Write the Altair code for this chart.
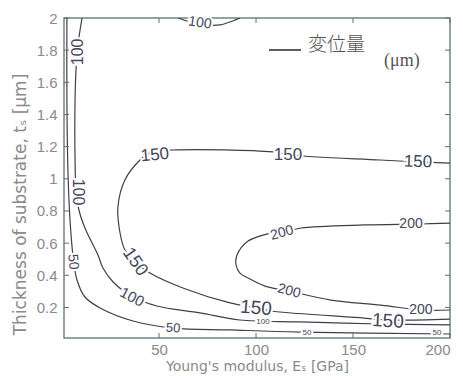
import altair as alt
import pandas as pd

# ---- traced contour lines: Young's modulus E_s [GPa] vs substrate thickness t_s [um]
c50_x = [2.5, 2.5, 3.1, 4.1, 5.6, 7.7, 11.8, 19.6, 36.6, 57.2, 86.6, 122.7, 200]
c50_y = [2.0, 1.49, 1.02, 0.744, 0.526, 0.371, 0.265, 0.197, 0.116, 0.072, 0.060, 0.047, 0.035]

c100a_x = [10.3, 8.2, 7.2, 6.7, 6.7, 7.2, 8.7, 11.8, 18.5, 21.1, 26.3, 36.6, 48.9, 71.1, 91.7, 122.7, 164, 200]
c100a_y = [2.0, 1.832, 1.677, 1.49, 1.117, 0.93, 0.806, 0.694, 0.526, 0.445, 0.358, 0.265, 0.209, 0.166, 0.122, 0.11, 0.097, 0.091]

c100b_x = [59.8, 66, 73.7, 81.4, 87.6, 91.7]
c100b_y = [2.0, 1.975, 1.957, 1.957, 1.98, 2.0]

c150_x = [200, 183.5, 163.9, 117.5, 108.7, 57.2, 45.3, 40.2, 32.4, 28.8, 29.9, 32.4, 37.6, 45.3, 62.3, 86.6, 100, 107.7, 155.7, 168, 200]
c150_y = [1.098, 1.105, 1.117, 1.148, 1.167, 1.179, 1.161, 1.117, 0.993, 0.825, 0.663, 0.557, 0.483, 0.414, 0.321, 0.228, 0.197, 0.178, 0.134, 0.122, 0.128]

c200_x = [200, 185, 155.7, 123.2, 116.5, 107.7, 95.9, 90.2, 89.7, 91.7, 95.9, 104.6, 117, 138.6, 164.4, 185, 200]
c200_y = [0.725, 0.719, 0.713, 0.694, 0.675, 0.663, 0.613, 0.526, 0.464, 0.414, 0.383, 0.333, 0.302, 0.246, 0.215, 0.184, 0.184]

# ---- inline contour labels
lab_text = ["100", "100", "100", "50", "150", "150", "150", "150", "100", "50",
            "200", "200", "200", "200", "150", "150", "100", "50", "50"]
lab_x = [71.1, 8.2, 8.2, 5.6, 47.9, 116.5, 183.5, 37.6, 36.1, 57.2,
         113.4, 179.9, 117.0, 185.0, 100.0, 168.0, 103.6, 126.3, 193.3]
lab_y = [1.969, 1.789, 0.918, 0.483, 1.148, 1.148, 1.105, 0.483, 0.265, 0.072,
         0.663, 0.719, 0.302, 0.184, 0.197, 0.116, 0.110, 0.041, 0.041]
lab_angle = [8, 270, 90, 85, 355, 0, 2, 55, 28, 5, 345, 0, 15, 0, 5, 3, 0, 0, 0]
lab_size = [14, 16, 16, 14, 17, 17, 17, 18, 15, 13, 14, 14, 14, 14, 19, 19, 8, 8, 8]

x_ticks = [50, 100, 150, 200]
y_ticks = [0.2, 0.4, 0.6, 0.8, 1.0, 1.2, 1.4, 1.6, 1.8, 2.0]

# ---- build tables
rows = []
for name, xs, ys in [("50", c50_x, c50_y), ("100a", c100a_x, c100a_y), ("100b", c100b_x, c100b_y),
                     ("150", c150_x, c150_y), ("200", c200_x, c200_y)]:
    for i, (xv, yv) in enumerate(zip(xs, ys)):
        rows.append({"seg": name, "order": i, "E": xv, "t": yv})
lines_df = pd.DataFrame(rows)
labels_df = pd.DataFrame({"E": lab_x, "t": lab_y, "txt": lab_text, "ang": lab_angle, "sz": lab_size})
xt_df = pd.DataFrame({"E": x_ticks})
yt_df = pd.DataFrame({"t": y_ticks})

W, H = 386, 320
xscale = alt.Scale(domain=[1, 200], nice=False, zero=False)
yscale = alt.Scale(domain=[0.01, 2], nice=False, zero=False)
GRAY = "#8a8a8a"
LINE = "#3f3f4c"

xaxis = alt.Axis(values=x_ticks, title="Young's modulus, Eₛ [GPa]", ticks=False, tickSize=0,
                 domain=False, grid=False, labelPadding=4, titleY=28, titleBaseline="middle",
                 titleFontSize=14)
yaxis = alt.Axis(values=y_ticks, format="~g", title="Thickness of substrate, tₛ [μm]", ticks=False,
                 tickSize=0, domain=False, grid=False, labelPadding=7, titleX=-44, titleY=186,
                 titleAlign="center", titleBaseline="middle", titleAngle=270, titleFontSize=17)

X = alt.X("E:Q", scale=xscale, axis=xaxis)
Y = alt.Y("t:Q", scale=yscale, axis=yaxis)

contours = alt.Chart(lines_df).mark_line(color=LINE, strokeWidth=1.2, interpolate="catmull-rom", clip=True).encode(
    x=X, y=Y, detail="seg:N", order="order:Q",
)

halo = alt.Chart(labels_df).mark_text(color="white", stroke="white", strokeWidth=4,
                                       font="Liberation Sans").encode(
    x=X, y=Y, text="txt:N",
    angle=alt.Angle("ang:Q", scale=None),
    size=alt.Size("sz:Q", scale=None, legend=None),
)
labels = alt.Chart(labels_df).mark_text(color="#45455a", font="Liberation Sans").encode(
    x=X, y=Y, text="txt:N",
    angle=alt.Angle("ang:Q", scale=None),
    size=alt.Size("sz:Q", scale=None, legend=None),
)

TICK = "#6a6a6a"
bot_ticks = alt.Chart(xt_df).mark_rule(color=TICK).encode(x=X, y=alt.value(H), y2=alt.value(H - 5))
top_ticks = alt.Chart(xt_df).mark_rule(color=TICK).encode(x=X, y=alt.value(0), y2=alt.value(5))
left_ticks = alt.Chart(yt_df).mark_rule(color=TICK).encode(y=Y, x=alt.value(0), x2=alt.value(5))
right_ticks = alt.Chart(yt_df).mark_rule(color=TICK).encode(y=Y, x=alt.value(W), x2=alt.value(W - 5))

one = pd.DataFrame({"k": [0]})
leg_line = alt.Chart(one).mark_rule(color="#333333", strokeWidth=1.6).encode(
    x=alt.value(205), x2=alt.value(237), y=alt.value(32))
leg_text = alt.Chart(one).mark_text(text="変位量", align="left", baseline="middle", fontSize=19,
                                    font="Noto Sans CJK JP", fontWeight=300, color="#555555").encode(
    x=alt.value(244), y=alt.value(27))
leg_unit = alt.Chart(one).mark_text(text="(μm)", align="left", baseline="middle", fontSize=18,
                                    font="Liberation Serif", color="#555555").encode(
    x=alt.value(320), y=alt.value(43))

chart = alt.layer(
    contours, halo, labels, bot_ticks, top_ticks, left_ticks, right_ticks, leg_line, leg_text, leg_unit
).properties(
    width=W, height=H,
    autosize=alt.AutoSizeParams(type="none"),
    padding={"left": 56, "top": 10, "right": 5, "bottom": 38},
).configure_view(
    stroke="#6f8582", strokeWidth=1.5
).configure_axis(
    labelFont="Liberation Sans", labelFontSize=15, labelColor=GRAY,
    titleFont="DejaVu Sans", titleColor=GRAY, titleFontWeight="normal",
)

chart.save("out.html", embed_options={"renderer": "svg", "actions": False})
